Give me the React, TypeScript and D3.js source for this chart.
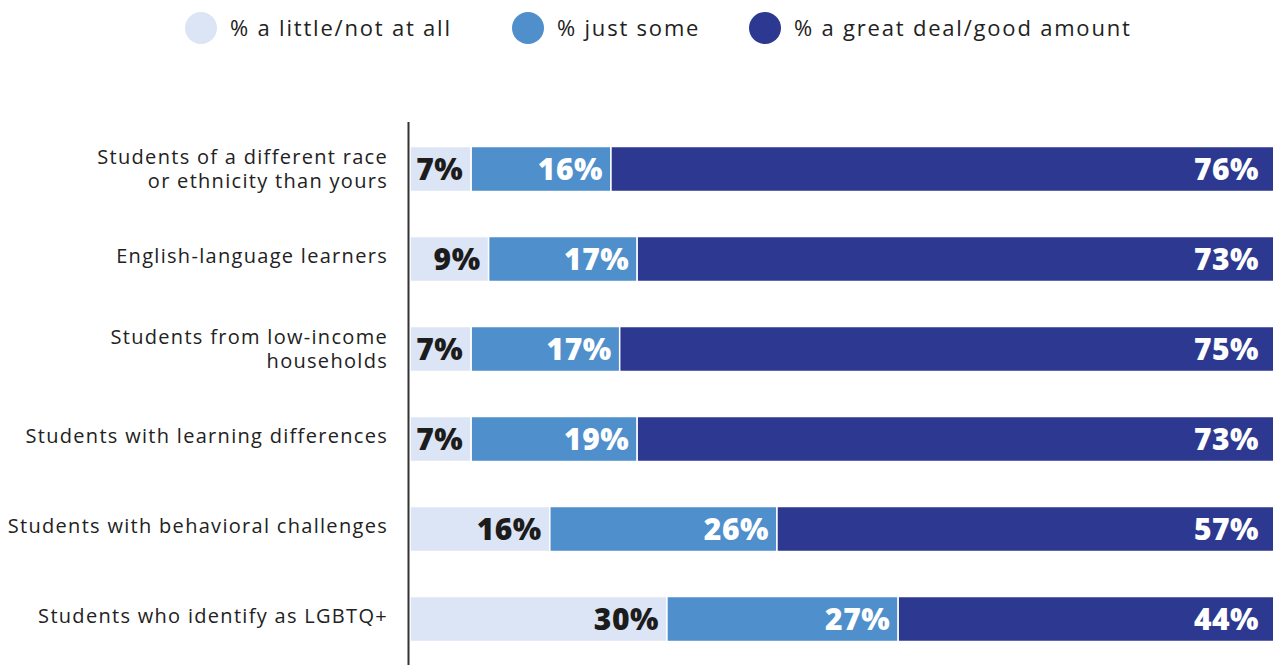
import React from "react";
import * as d3 from "d3";

const categories: string[][] = [
  ["Students of a different race", "or ethnicity than yours"],
  ["English-language learners"],
  ["Students from low-income", "households"],
  ["Students with learning differences"],
  ["Students with behavioral challenges"],
  ["Students who identify as LGBTQ+"],
];
const seriesNames = ["% a little/not at all", "% just some", "% a great deal/good amount"];
const littleNotAtAll = [7, 9, 7, 7, 16, 30];
const justSome = [16, 17, 17, 19, 26, 27];
const greatDeal = [76, 73, 75, 73, 57, 44];
const colors = ["#dce5f5", "#4f8fcc", "#2d3991"];
const labelColors = ["#1c1c1c", "#ffffff", "#ffffff"];

const W = 1273;
const H = 665;

export default function App() {
  const series = [littleNotAtAll, justSome, greatDeal];
  const rows = categories.map((c, i) => ({ key: String(i), v0: littleNotAtAll[i], v1: justSome[i], v2: greatDeal[i] }));
  const stack = d3.stack<any>().keys(["v0", "v1", "v2"]).offset(d3.stackOffsetExpand)(rows);
  const x = d3.scaleLinear().domain([0, 1]).range([410, 1275]);
  const y = d3.scaleBand().domain(rows.map((r) => r.key)).range([124, 664]).paddingInner(0.5).paddingOuter(0.25);
  const legendX = [201, 528, 765];
  const fmt = (v: number) => `${v}%`;

  return (
    <div style={{ position: "absolute", left: 0, top: 0 }}>
      <svg width={W} height={H} style={{ display: "block" }}>
        <rect x={0} y={0} width={W} height={H} fill="#fff" />
        {seriesNames.map((n, i) => (
          <g key={n}>
            <circle cx={legendX[i]} cy={28} r={16} fill={colors[i]} />
            <text x={legendX[i] + 29} y={28} dy="0.35em" fontFamily="'Open Sans', sans-serif" fontSize={22} fill="#222" letterSpacing={1.8}>
              {n}
            </text>
          </g>
        ))}
        {stack.map((s, si) => (
          <g key={s.key}>
            {s.map((d, i) => (
              <g key={i}>
                <rect
                  x={x(d[0])}
                  y={y(String(i))!}
                  width={x(d[1]) - x(d[0])}
                  height={y.bandwidth()}
                  fill={colors[si]}
                  stroke="#fff"
                  strokeWidth={1.5}
                />
                <text
                  x={Math.min(x(d[1]), W) - (si === 2 ? 14 : 8)}
                  y={y(String(i))! + y.bandwidth() / 2}
                  dy="0.36em"
                  textAnchor="end"
                  fontFamily="'Open Sans', sans-serif"
                  fontWeight={800}
                  fontSize={30}
                  letterSpacing={0.5}
                  fill={labelColors[si]}
                >
                  {fmt(series[si][i])}
                </text>
              </g>
            ))}
          </g>
        ))}
        {categories.map((lines, i) => {
          const cy = y(String(i))! + y.bandwidth() / 2;
          const lh = 24;
          return (
            <text key={i} textAnchor="end" fontFamily="'Open Sans', sans-serif" fontSize={20} fill="#222" letterSpacing={1.3}>
              {lines.map((l, j) => (
                <tspan key={j} x={388} y={cy + (j - (lines.length - 1) / 2) * lh} dy={lines.length > 1 ? "0.35em" : "0.2em"}>
                  {l}
                </tspan>
              ))}
            </text>
          );
        })}
        <line x1={408.5} x2={408.5} y1={122} y2={H} stroke="#333" strokeWidth={2} />
      </svg>
    </div>
  );
}
